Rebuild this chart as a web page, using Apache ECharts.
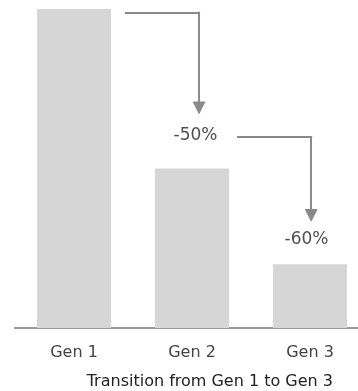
<!DOCTYPE html>
<html>
<head>
<meta charset="utf-8">
<script src="https://cdn.jsdelivr.net/npm/echarts@6/dist/echarts.min.js"></script>
<style>
html,body{margin:0;padding:0;background:#fff;}
#chart{width:358px;height:391px;}
</style>
</head>
<body>
<div id="chart"></div>
<script>
// Data
var categories = ['Gen 1', 'Gen 2', 'Gen 3'];
var values = [100, 50, 20];
var changeLabels = ['-50%', '-60%'];
// Annotation anchors in data units (x: category position, y: value)
var labelPoints = [[1.03, 60.2], [1.97, 27.8]];
var arrowRuns = [
  [[0.44, 98.8], [1.06, 98.8]],
  [[1.39, 59.9], [2.01, 59.9]]
];
var arrowDrops = [
  [[1.06, 98.8], [1.06, 69.0]],
  [[2.01, 59.9], [2.01, 35.3]]
];
var axisTitle = 'Transition from Gen 1 to Gen 3';

var FONT = 'DejaVu Sans';
var chart = echarts.init(document.getElementById('chart'), null, {renderer: 'canvas'});
chart.setOption({
  animation: false,
  backgroundColor: '#fff',
  title: {
    text: axisTitle,
    right: 25,
    top: 374,
    padding: 0,
    textStyle: {fontFamily: FONT, fontSize: 16, fontWeight: 'normal', color: '#222'}
  },
  grid: {left: 15, top: 9, width: 354, bottom: 63, containLabel: false, outerBoundsMode: 'none'},
  xAxis: [{
    type: 'category',
    data: categories,
    axisLine: {lineStyle: {color: '#999', width: 2}},
    axisTick: {show: false},
    axisLabel: {fontFamily: FONT, fontSize: 16, color: '#444', margin: 17}
  }, {
    type: 'value', min: -0.5, max: 2.5, show: false
  }],
  yAxis: {type: 'value', min: 0, max: 100, show: false, splitLine: {show: false}},
  series: [{
    type: 'bar',
    data: values,
    barWidth: 74,
    itemStyle: {color: '#d6d6d6'},
    silent: true
  }, {
    type: 'lines',
    coordinateSystem: 'cartesian2d',
    xAxisIndex: 1,
    symbol: ['none', 'none'],
    lineStyle: {color: '#8a8a8a', width: 2, opacity: 1, cap: 'square'},
    data: arrowRuns.map(function (p) { return {coords: p}; }),
    silent: true
  }, {
    type: 'lines',
    coordinateSystem: 'cartesian2d',
    xAxisIndex: 1,
    symbol: ['none', 'triangle'],
    symbolSize: 13,
    lineStyle: {color: '#8a8a8a', width: 2, opacity: 1, cap: 'square'},
    data: arrowDrops.map(function (p) { return {coords: p}; }),
    silent: true
  }, {
    type: 'scatter',
    xAxisIndex: 1,
    symbolSize: 0,
    data: labelPoints.map(function (p, i) { return {value: p, name: changeLabels[i]}; }),
    label: {
      show: true, position: 'inside', formatter: function (d) { return d.name; },
      fontFamily: FONT, fontSize: 17, color: '#222'
    },
    silent: true
  }]
});
</script>
</body>
</html>
